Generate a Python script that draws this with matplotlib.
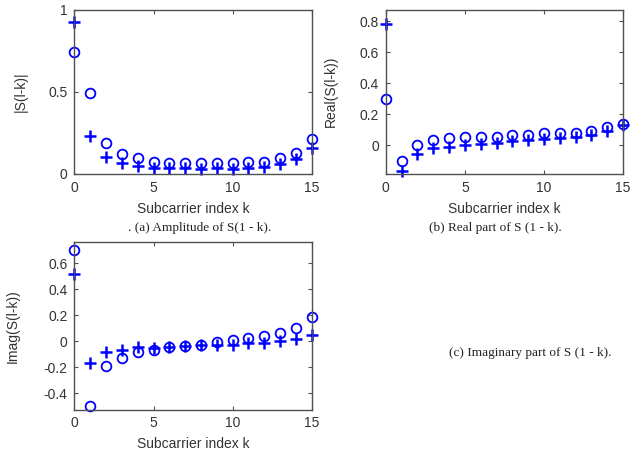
import numpy as np
import matplotlib
matplotlib.use('Agg')
import matplotlib.pyplot as plt

plt.rcParams['font.family'] = ['Liberation Sans', 'DejaVu Sans']

k = np.arange(16)

# (a) amplitude
amp_o = [0.742, 0.492, 0.19, 0.122, 0.095, 0.075, 0.069, 0.065, 0.065, 0.065,
         0.065, 0.071, 0.075, 0.10, 0.13, 0.21]
amp_s = [0.923, 0.232, 0.106, 0.065, 0.049, 0.035, 0.035, 0.035, 0.03, 0.035,
         0.03, 0.039, 0.045, 0.059, 0.089, 0.157]

# (b) real part
re_o = [0.296, -0.10, 0.0, 0.032, 0.043, 0.049, 0.054, 0.054, 0.064, 0.064,
        0.075, 0.075, 0.079, 0.092, 0.114, 0.133]
re_s = [0.785, -0.17, -0.058, -0.021, -0.011, 0.0, 0.006, 0.015, 0.028, 0.032,
        0.036, 0.043, 0.049, 0.064, 0.092, 0.129]

# (c) imaginary part
im_o = [0.70, -0.496, -0.188, -0.125, -0.083, -0.065, -0.047, -0.034, -0.026, -0.005,
        0.013, 0.026, 0.039, 0.065, 0.099, 0.188]
im_s = [0.514, -0.164, -0.083, -0.065, -0.047, -0.052, -0.047, -0.034, -0.026, -0.026,
        -0.026, -0.013, -0.013, 0.005, 0.021, 0.052]

BLUE = '#0000ff'
FRAME = '#505050'

fig = plt.figure(figsize=(6.42, 4.53), dpi=100)


def style(ax, ylim, yticks, yticklabels, ylabel, ylab_x):
    ax.set_xlim(0, 15)
    ax.set_ylim(*ylim)
    ax.set_xticks([0, 5, 10, 15])
    ax.set_yticks(yticks)
    ax.set_yticklabels(yticklabels)
    ax.tick_params(direction='in', length=3, width=0.8, top=True, right=True,
                   labelsize=10, colors=FRAME, labelcolor='#333333', pad=5)
    for s in ax.spines.values():
        s.set_color(FRAME)
        s.set_linewidth(1.0)
    ax.set_xlabel('Subcarrier index k', fontsize=10, color='#333333', labelpad=5)
    ax.set_ylabel(ylabel, fontsize=10, color='#333333')
    ax.yaxis.set_label_coords(ylab_x, 0.5)


def draw(ax, yo, ys):
    ax.plot(k, yo, linestyle='none', marker='o', ms=7, mfc='none', mec=BLUE,
            mew=1.3, clip_on=False)
    ax.plot(k, ys, linestyle='none', marker='+', ms=8, mec=BLUE, color=BLUE,
            mew=1.8, clip_on=False)


ax1 = fig.add_axes([0.116, 0.616, 0.3695, 0.363])
draw(ax1, amp_o, amp_s)
style(ax1, (0, 1), [0, 0.5, 1], ['0', '0.5', '1'], '|S(l-k)|', -0.196)

ax2 = fig.add_axes([0.601, 0.616, 0.3695, 0.363])
draw(ax2, re_o, re_s)
style(ax2, (-0.187, 0.877), [0, 0.2, 0.4, 0.6, 0.8], ['0', '0.2', '0.4', '0.6', '0.8'],
      'Real(S(l-k))', -0.203)

ax3 = fig.add_axes([0.116, 0.096, 0.3695, 0.3687])
draw(ax3, im_o, im_s)
style(ax3, (-0.525, 0.76), [-0.4, -0.2, 0, 0.2, 0.4, 0.6],
      ['-0.4', '-0.2', '0', '0.2', '0.4', '0.6'], 'Imag(S(l-k))', -0.23)

cap = dict(fontsize=9.5, family='Liberation Serif', color='#222222', ha='center', va='center')
fig.text(200 / 642, 1 - 228 / 453, '. (a) Amplitude of S(1 - k).', **cap)
fig.text(495 / 642, 1 - 228 / 453, '(b) Real part of S (1 - k).', **cap)
fig.text(530 / 642, 1 - 353 / 453, '(c) Imaginary part of S (1 - k).', **cap)

fig.savefig('out.png', dpi=100)
